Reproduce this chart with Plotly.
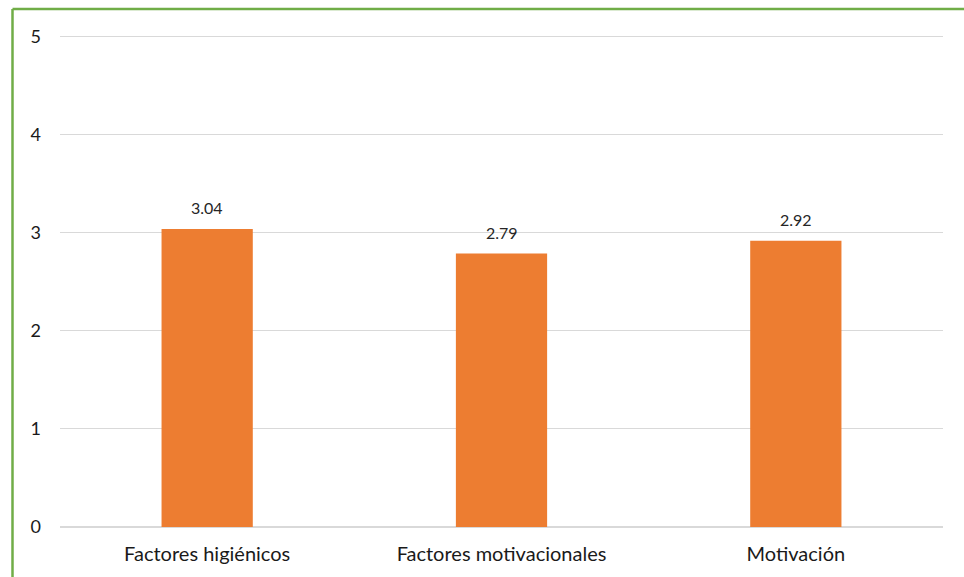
import plotly.graph_objects as go

categories = ["Factores higiénicos", "Factores motivacionales", "Motivación"]
values = [3.04, 2.79, 2.92]
y_ticks = [0, 1, 2, 3, 4, 5]

W, H = 964, 577
ml, mr, mt, mb = 60, 21, 35, 50
pw, ph = W - ml - mr, H - mt - mb

fig = go.Figure(
    go.Bar(
        x=categories,
        y=values,
        width=0.31,
        marker=dict(color="#ED7D31", line=dict(width=0)),
        hoverinfo="x+y",
    )
)

# value labels above each bar
for c, v in zip(categories, values):
    fig.add_annotation(
        x=c, y=v, text=f"{v:.2f}", showarrow=False, yanchor="bottom",
        yshift=10, font=dict(size=16, color="#262626"),
    )

# green frame along the left and top edges
border = "#70AD47"
x_left = (12.5 - ml) / pw
y_top = 1 + (mt - 9) / ph
fig.add_shape(type="line", xref="paper", yref="paper",
              x0=x_left, x1=(W - ml) / pw + 0.01, y0=y_top, y1=y_top,
              line=dict(color=border, width=2.5))
fig.add_shape(type="line", xref="paper", yref="paper",
              x0=x_left, x1=x_left, y0=y_top, y1=-(mb + 5) / ph,
              line=dict(color=border, width=2.5))

fig.update_layout(
    width=W, height=H,
    margin=dict(l=ml, r=mr, t=mt, b=mb),
    paper_bgcolor="white",
    plot_bgcolor="white",
    font=dict(family="Lato, Open Sans, sans-serif", color="#262626"),
    showlegend=False,
    bargap=0.69,
)
fig.update_xaxes(
    showgrid=False, showline=True, linecolor="#D9D9D9", linewidth=1,
    tickfont=dict(size=20, color="#1a1a1a"), ticks="", ticklabelstandoff=9,
)
fig.update_yaxes(
    range=[0, 5.02], tickvals=y_ticks, showgrid=True, gridcolor="#D9D9D9",
    gridwidth=1, zeroline=True, zerolinecolor="#D9D9D9", showline=False,
    tickfont=dict(size=18, color="#1a1a1a"), ticklabelstandoff=18,
)

fig.write_html("out.html")
